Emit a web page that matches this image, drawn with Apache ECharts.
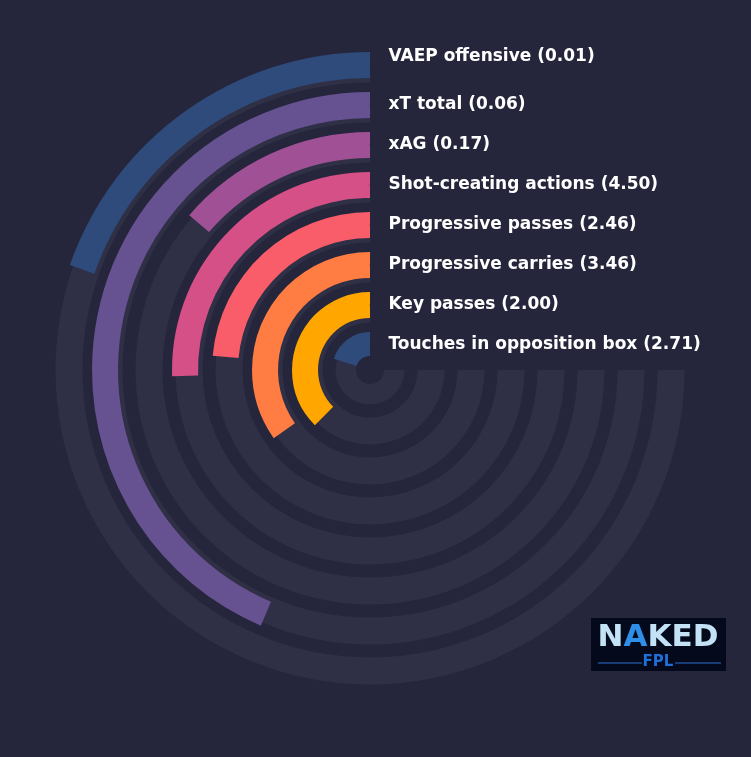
<!DOCTYPE html>
<html><head><meta charset="utf-8">
<script src="https://cdn.jsdelivr.net/npm/echarts@6/dist/echarts.min.js"></script>
<style>html,body{margin:0;padding:0;background:#25263b;}#c{width:751px;height:757px;}</style>
</head><body><div id="c"></div>
<script>
// Display order, outermost ring first
const categories = ['VAEP offensive', 'xT total', 'xAG', 'Shot-creating actions', 'Progressive passes', 'Progressive carries', 'Key passes', 'Touches in opposition box'];
const rawValues = ['0.01', '0.06', '0.17', '4.50', '2.46', '3.46', '2.00', '2.71'];
// bar length as percent of the 270-degree track
const percentiles = [26.2, 58.1, 18.3, 34.0, 31.4, 46.4, 50.0, 26.9];
const trackValues = [100, 100, 100, 100, 100, 100, 100, 100];
const labelShift = [-8, 0, 0, 0, 0, 0, 0, 0];
const barColors = ['#2f4b7c', '#665191', '#a05195', '#d45087', '#f95d6a', '#ff7c43', '#ffa600', '#2f4b7c'];

const BG = '#25263b';
const TRACK = '#2f3046';

const angleAxisBase = {
  type: 'value', min: 0, max: 100 * 360 / 270, startAngle: 90, clockwise: false,
  show: false, splitLine: { show: false }, axisLine: { show: false }, axisTick: { show: false }, axisLabel: { show: false }
};
const radiusAxisBase = {
  type: 'category', data: categories, inverse: true,
  show: false, axisLine: { show: false }, axisTick: { show: false }, axisLabel: { show: false }, splitLine: { show: false }
};

const chart = echarts.init(document.getElementById('c'), null, { renderer: 'canvas' });
chart.setOption({
  backgroundColor: BG,
  animation: false,
  polar: [
    { center: [370, 370], radius: [1, 321] },
    { center: [370, 370], radius: [5, 325] }
  ],
  angleAxis: [
    Object.assign({ polarIndex: 0 }, angleAxisBase),
    Object.assign({ polarIndex: 1 }, angleAxisBase)
  ],
  radiusAxis: [
    Object.assign({ polarIndex: 0 }, radiusAxisBase),
    Object.assign({ polarIndex: 1 }, radiusAxisBase)
  ],
  series: [
    {
      type: 'bar', coordinateSystem: 'polar', polarIndex: 0, name: 'track',
      data: trackValues, barWidth: 27,
      itemStyle: { color: TRACK }, silent: true, z: 1
    },
    {
      type: 'bar', coordinateSystem: 'polar', polarIndex: 1, name: 'value',
      data: percentiles.map((v, i) => ({ value: v, itemStyle: { color: barColors[i] } })),
      barWidth: 26, silent: true, z: 2
    },
    {
      type: 'scatter', coordinateSystem: 'polar', polarIndex: 1, name: 'labels',
      data: categories.map((c, i) => ({
        value: [i, 0],
        label: { offset: [0, labelShift[i]] }
      })),
      symbolSize: 1, itemStyle: { color: BG, opacity: 1 }, silent: true, z: 5,
      label: {
        show: true, position: 'right', distance: 18, opacity: 1,
        formatter: p => categories[p.dataIndex] + ' (' + rawValues[p.dataIndex] + ')',
        color: '#ffffff', textBorderWidth: 0, fontFamily: 'DejaVu Sans', fontWeight: 'bold', fontSize: 17
      }
    }
  ],
  graphic: [
    { type: 'circle', shape: { cx: 370, cy: 370, r: 14 }, style: { fill: BG }, z: 10, silent: true },
    {
      type: 'group', left: 591, top: 618, silent: true, children: [
        { type: 'rect', shape: { x: 0, y: 0, width: 135, height: 53 }, style: { fill: '#040a1c' } },
        {
          type: 'text', x: 67, y: 4,
          style: {
            text: '{a|N}{b|A}{a|KED}', align: 'center', verticalAlign: 'top',
            rich: {
              a: { fontFamily: 'DejaVu Sans', fontWeight: 'bold', fontSize: 31, fill: '#c3e2f5' },
              b: { fontFamily: 'DejaVu Sans', fontWeight: 'bold', fontSize: 31, fill: '#2f8fe8' }
            }
          }
        },
        { type: 'line', shape: { x1: 7, y1: 45, x2: 51, y2: 45 }, style: { stroke: '#2a6fd0', lineWidth: 1 } },
        { type: 'line', shape: { x1: 84, y1: 45, x2: 130, y2: 45 }, style: { stroke: '#2a6fd0', lineWidth: 1 } },
        {
          type: 'text', x: 67, y: 44,
          style: { text: 'FPL', align: 'center', verticalAlign: 'middle', fontFamily: 'DejaVu Sans', fontWeight: 'bold', fontSize: 15, fill: '#1f6fd8' }
        }
      ]
    }
  ]
});
</script></body></html>
